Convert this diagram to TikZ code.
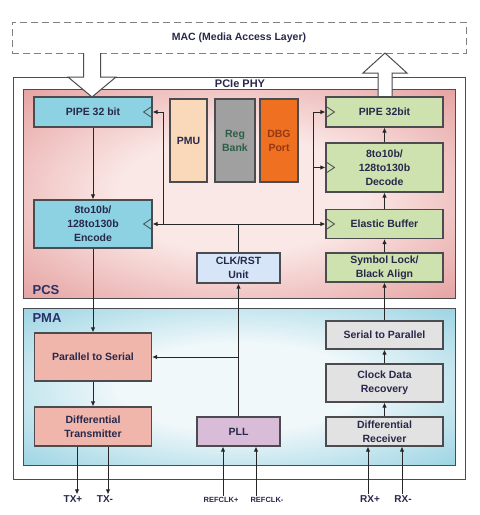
\documentclass[tikz,border=0pt]{standalone}
\usepackage{fontspec}
\setmainfont{Liberation Sans}
\usetikzlibrary{arrows.meta}

\definecolor{linegray}{RGB}{75,75,80}
\definecolor{txtnavy}{RGB}{40,40,75}
\definecolor{pcsin}{RGB}{250,232,230}
\definecolor{pcsout}{RGB}{216,116,116}
\definecolor{pmain}{RGB}{240,248,250}
\definecolor{pmaout}{RGB}{100,188,212}
\definecolor{txblue}{RGB}{140,210,226}
\definecolor{rxgreen}{RGB}{206,226,176}
\definecolor{pinkbox}{RGB}{240,182,172}
\definecolor{pmucol}{RGB}{250,216,186}
\definecolor{regcol}{RGB}{160,160,160}
\definecolor{regtxt}{RGB}{45,95,70}
\definecolor{dbgcol}{RGB}{238,112,32}
\definecolor{dbgtxt}{RGB}{150,55,20}
\definecolor{clkcol}{RGB}{214,230,248}
\definecolor{pllcol}{RGB}{216,188,216}
\definecolor{graybox}{RGB}{226,226,226}
\definecolor{tagnavy}{RGB}{40,50,105}

\pgfdeclareradialshading{pcsglow}{\pgfpoint{0bp}{0bp}}{color(0bp)=(pcsin); color(14bp)=(pcsin); color(50bp)=(pcsout); color(75bp)=(pcsout)}
\pgfdeclareradialshading{pmaglow}{\pgfpoint{0bp}{0bp}}{color(0bp)=(pmain); color(14bp)=(pmain); color(50bp)=(pmaout); color(75bp)=(pmaout)}

\tikzset{
  blk/.style={draw=linegray, line width=1.1pt, inner sep=1pt, align=center, text=txtnavy,
    font=\fontsize{10.5}{14}\selectfont\bfseries},
  lbl/.style={text=txtnavy, inner sep=1pt, font=\fontsize{10}{12}\selectfont\bfseries},
  wire/.style={line width=0.9pt, draw=black!85},
  arr/.style={wire, -{Latex[length=5pt,width=4.5pt]}},
  clk/.style={draw=linegray, line width=0.8pt},
  hollow/.style={draw=linegray, fill=white, line width=1pt, line join=miter},
}

\begin{document}
\begin{tikzpicture}[x=1pt,y=-1pt]
  \useasboundingbox (0,0) rectangle (480,515);

  % MAC layer
  \node[draw=gray, line width=1pt, dash pattern=on 7pt off 4pt, minimum width=454, minimum height=31,
    text=txtnavy, font=\fontsize{10.5}{12}\selectfont\bfseries] (mac) at (239,37.5) {MAC (Media Access Layer)};

  % PHY, PCS and PMA frames
  \node[draw=linegray, fill=white, line width=1pt, minimum width=452, minimum height=402] (phy) at (239,278) {};
  \node[lbl, font=\fontsize{11}{12}\selectfont\bfseries] (phylbl) at (240,84) {PCIe PHY};
  \node[draw=linegray, line width=1pt, shading=pcsglow, minimum width=432, minimum height=209] (pcs) at (239,193.5) {};
  \node[draw=linegray, line width=1pt, shading=pmaglow, minimum width=432, minimum height=157] (pma) at (239,387) {};
  \node[lbl, text=tagnavy, font=\fontsize{13}{14}\selectfont\bfseries] (pcslbl) at (46,290) {PCS};
  \node[lbl, text=tagnavy, font=\fontsize{13}{14}\selectfont\bfseries] (pmalbl) at (47,318) {PMA};

  % hollow arrows to and from the MAC
  \draw[hollow] (83.5,53) -- (83.5,77) -- (68,77) -- (92,97) -- (116,77) -- (100.5,77) -- (100.5,53);
  \draw[hollow] (378,97) -- (378,73) -- (363,73) -- (385,53) -- (407,73) -- (392,73) -- (392,97);

  % transmit side
  \node[blk, fill=txblue, minimum width=118, minimum height=30] (pipetx) at (93,112) {PIPE 32 bit};
  \node[blk, fill=txblue, minimum width=118, minimum height=48] (enc) at (93,224) {8to10b/\\128to130b\\Encode};
  \node[blk, fill=pinkbox, minimum width=117, minimum height=48] (ptos) at (93,357) {Parallel to Serial};
  \node[blk, fill=pinkbox, minimum width=117, minimum height=39] (dtx) at (93,426.5) {Differential\\Transmitter};

  % middle blocks
  \node[blk, fill=pmucol, minimum width=37, minimum height=83] (pmu) at (188.5,140.5) {PMU};
  \node[blk, fill=regcol, text=regtxt, minimum width=40, minimum height=83] (regbank) at (235,140.5) {Reg\\Bank};
  \node[blk, fill=dbgcol, text=dbgtxt, minimum width=38, minimum height=83] (dbg) at (279,140.5) {DBG\\Port};
  \node[blk, fill=clkcol, minimum width=83, minimum height=30] (clkrst) at (238.5,268) {CLK/RST\\Unit};
  \node[blk, fill=pllcol, minimum width=83, minimum height=29] (pll) at (238.5,431.5) {PLL};

  % receive side
  \node[blk, fill=rxgreen, minimum width=117, minimum height=30] (piperx) at (384.5,112) {PIPE 32bit};
  \node[blk, fill=rxgreen, minimum width=117, minimum height=49] (dec) at (384.5,167.5) {8to10b/\\128to130b\\Decode};
  \node[blk, fill=rxgreen, minimum width=117, minimum height=29] (ebuf) at (384.5,224) {Elastic Buffer};
  \node[blk, fill=rxgreen, minimum width=117, minimum height=29] (slock) at (384.5,267.5) {Symbol Lock/\\Black Align};
  \node[blk, fill=graybox, minimum width=117, minimum height=28] (stop) at (384.5,335) {Serial to Parallel};
  \node[blk, fill=graybox, minimum width=117, minimum height=38] (cdr) at (384.5,383) {Clock Data\\Recovery};
  \node[blk, fill=graybox, minimum width=117, minimum height=29] (drx) at (384.5,431.5) {Differential\\Receiver};

  % pin labels
  \node[lbl] (txp) at (73,499) {TX+};
  \node[lbl] (txm) at (105,499) {TX-};
  \node[lbl, font=\fontsize{7.5}{9}\selectfont\bfseries] (refp) at (221,500) {REFCLK+};
  \node[lbl, font=\fontsize{7.5}{9}\selectfont\bfseries] (refm) at (267,500) {REFCLK-};
  \node[lbl] (rxp) at (370,499) {RX+};
  \node[lbl] (rxm) at (403,499) {RX-};

  % clock inputs
  \foreach \b in {pipetx,enc}
    \draw[clk] ([yshift=6pt]\b.east) -- ([xshift=-9pt]\b.east) -- ([yshift=-6pt]\b.east);
  \foreach \b in {piperx,dec,ebuf}
    \draw[clk] ([yshift=6pt]\b.west) -- ([xshift=9pt]\b.west) -- ([yshift=-6pt]\b.west);

  % transmit path
  \draw[arr] (pipetx.south) -- (enc.north);
  \draw[arr] (enc.south) -- (ptos.north);
  \draw[arr] (ptos.south) -- (dtx.north);
  \draw[arr] ([xshift=4pt]txp.north |- dtx.south) -- ([xshift=4pt]txp.north);
  \draw[arr] ([xshift=3pt]txm.north |- dtx.south) -- ([xshift=3pt]txm.north);

  % receive path
  \draw[arr] ([xshift=-2pt]rxp.north) -- ([xshift=-2pt]rxp.north |- drx.south);
  \draw[arr] ([xshift=-1pt]rxm.north) -- ([xshift=-1pt]rxm.north |- drx.south);
  \draw[arr] (drx.north) -- (cdr.south);
  \draw[arr] (cdr.north) -- (stop.south);
  \draw[arr] (stop.north) -- (slock.south);
  \draw[arr] (slock.north) -- (ebuf.south);
  \draw[arr] (ebuf.north) -- (dec.south);
  \draw[arr] (dec.north) -- (piperx.south);

  % clocks
  \draw[arr] ([xshift=2pt]refp.north) -- ([xshift=2pt]refp.north |- pll.south);
  \draw[arr] ([xshift=-11pt]refm.north) -- ([xshift=-11pt]refm.north |- pll.south);
  \draw[arr] (pll.north) -- (clkrst.south);
  \draw[arr] (pll.north |- ptos.east) -- (ptos.east);
  \coordinate (busl) at (163,224);
  \coordinate (busr) at (313,224);
  \draw[wire] (busl) -- (busr);
  \draw[wire] (clkrst.north) -- (clkrst.north |- busl);
  \draw[arr] (busl) |- (pipetx.east);
  \draw[arr] (busl) -- (enc.east);
  \draw[arr] (busr) |- (piperx.west);
  \draw[arr] (busr) |- (dec.west);
  \draw[arr] (busr) -- (ebuf.west);
\end{tikzpicture}
\end{document}
